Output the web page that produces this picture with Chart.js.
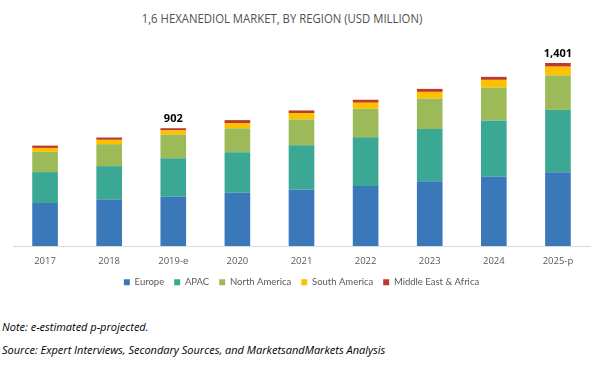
<!DOCTYPE html>
<html>
<head>
<meta charset="utf-8">
<script src="https://cdn.jsdelivr.net/npm/chart.js@4.4.1/dist/chart.umd.min.js"></script>
<style>
    body { margin: 0; background: #fff; width: 604px; height: 369px; overflow: hidden; position: relative; }
    #wrap { position: absolute; left: 0; top: 0; width: 604px; height: 297px; }
    .title { position: absolute; top: 9px; left: 0; width: 564px; text-align: center;
             font-family: "Open Sans", sans-serif; font-size: 13.5px; color: #505050;
             transform: scaleX(0.84); transform-origin: 282px 0; }
    .note { position: absolute; left: 2px; font-family: "Open Sans", sans-serif; font-style: italic;
            font-size: 11px; color: #000; white-space: nowrap; }
</style>
</head>
<body>
<div class="title">1,6 HEXANEDIOL MARKET, BY REGION (USD MILLION)</div>
<div id="wrap"><canvas id="chart"></canvas></div>
<div class="note" style="top:319px">Note: e-estimated p-projected.</div>
<div class="note" style="top:342px">Source: Expert Interviews, Secondary Sources, and MarketsandMarkets Analysis</div>
<script>
// Chart data
const years = ["2017", "2018", "2019-e", "2020", "2021", "2022", "2023", "2024", "2025-p"];
const europe = [330, 356, 380, 409, 434, 459, 497, 531, 566];
const apac = [236, 256, 292, 309, 337, 373, 399, 431, 476];
const northAmerica = [155, 168, 180, 183, 198, 219, 233, 251, 264];
const southAmerica = [30, 33, 33, 41, 49, 46, 51, 59, 67];
const middleEastAfrica = [18, 18, 17, 22, 20, 23, 23, 23, 28];
const totalLabels = ["", "", "902", "", "", "", "", "", "1,401"];

// Draw total labels above the selected bars
const totalsPlugin = {
    id: "totals",
    afterDatasetsDraw(chart) {
        const ctx = chart.ctx;
        const meta = chart.getDatasetMeta(chart.data.datasets.length - 1);
        ctx.save();
        ctx.font = "bold 11px 'Open Sans', sans-serif";
        ctx.fillStyle = "#000";
        ctx.textAlign = "center";
        ctx.textBaseline = "bottom";
        totalLabels.forEach((label, i) => {
            if (!label) return;
            const bar = meta.data[i];
            ctx.fillText(label, bar.x, bar.y - 4);
        });
        ctx.restore();
    }
};

const ctx = document.getElementById("chart").getContext("2d");
new Chart(ctx, {
    type: "bar",
    data: {
        labels: years,
        datasets: [
            { label: "Europe", data: europe, backgroundColor: "#3b78b9" },
            { label: "APAC", data: apac, backgroundColor: "#3aa893" },
            { label: "North America", data: northAmerica, backgroundColor: "#9cbb58" },
            { label: "South America", data: southAmerica, backgroundColor: "#ffc000" },
            { label: "Middle East & Africa", data: middleEastAfrica, backgroundColor: "#bd3a2a" }
        ]
    },
    options: {
        responsive: true,
        maintainAspectRatio: false,
        animation: false,
        layout: { padding: { top: 37, left: 13, right: 14, bottom: 0 } },
        datasets: { bar: { categoryPercentage: 1, barPercentage: 0.4, borderWidth: 0 } },
        plugins: {
            legend: {
                position: "bottom",
                labels: {
                    boxWidth: 6,
                    boxHeight: 6,
                    padding: 10,
                    color: "#595959",
                    font: { family: "Lato, sans-serif", size: 9.5 }
                }
            },
            tooltip: { enabled: false }
        },
        scales: {
            x: {
                stacked: true,
                grid: { display: false, drawTicks: false },
                border: { color: "#d9d9d9" },
                ticks: {
                    color: "#595959",
                    padding: 9,
                    font: { family: "'Open Sans', sans-serif", size: 9.5 }
                },
                // tighten gap between tick labels and legend
                afterFit: (scale) => { scale.height -= 8; }
            },
            y: {
                stacked: true,
                display: false,
                min: 0,
                max: 1600
            }
        }
    },
    plugins: [totalsPlugin]
});
</script>
</body>
</html>
